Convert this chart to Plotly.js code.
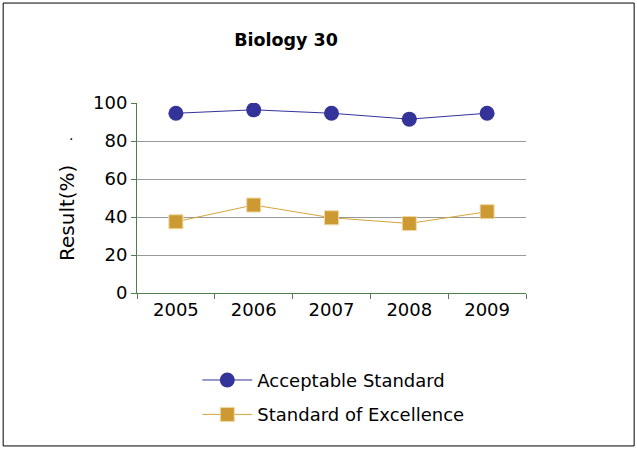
<!DOCTYPE html>
<html><head><meta charset="utf-8">
<script src="https://cdn.plot.ly/plotly-3.0.1.min.js"></script>
<style>html,body{margin:0;padding:0;background:#fff}#chart{width:637px;height:450px}</style>
</head><body><div id="chart"></div>
<script>
const years = ['2005','2006','2007','2008','2009'];
const acceptable = [94.6, 96.4, 94.6, 91.5, 94.6];
const excellence = [37.5, 46.3, 39.6, 36.6, 42.8];
const yTicks = [0, 20, 40, 60, 80, 100];

const traces = [
  {x: years, y: acceptable, name: 'Acceptable Standard', type: 'scatter', mode: 'lines+markers', legendgroup: 'a',
   line: {color: '#333399', width: 1}, marker: {symbol: 'circle', size: 15, color: '#333399'}},
  {x: years, y: excellence, name: 'Standard of Excellence', type: 'scatter', mode: 'lines+markers', legendgroup: 'b',
   line: {color: '#D4A53A', width: 1}, marker: {symbol: 'square', size: 14, color: '#CC9933', line: {color: '#F0D9A0', width: 1}}}
];

const F = 'DejaVu Sans, Arial, sans-serif';
const layout = {
  width: 637, height: 450,
  margin: {l: 137, r: 111, t: 103, b: 157},
  paper_bgcolor: '#fff', plot_bgcolor: '#fff',
  font: {family: F, color: '#000', size: 18},
  title: {text: '<b>Biology 30</b>', font: {size: 17.5, family: F}, x: 0.449, xanchor: 'center', y: 0.912, yanchor: 'middle'},
  xaxis: {type: 'category', range: [-0.5, 4.5], showgrid: false, showline: true, linecolor: '#4F7F4F', linewidth: 1,
          ticks: 'outside', tickson: 'boundaries', ticklen: 5, tickcolor: '#4F7F4F', tickfont: {size: 18}, zeroline: false},
  yaxis: {range: [0, 100], tickvals: yTicks, showgrid: true, gridcolor: '#999999', gridwidth: 1,
          showline: true, linecolor: '#4F7F4F', ticks: 'outside', ticklen: 5, tickcolor: '#4F7F4F',
          tickfont: {size: 18}, zeroline: false},
  legend: {orientation: 'v', x: 0.155, xanchor: 'left', y: -0.362, yanchor: 'top', font: {size: 18}, tracegroupgap: 8,
           itemwidth: 50, bgcolor: 'rgba(0,0,0,0)'},
  showlegend: true,
  annotations: [
    {text: 'Result(%)', textangle: -90, xref: 'paper', yref: 'paper', x: -0.18, y: 0.421, xanchor: 'center', yanchor: 'middle',
     showarrow: false, font: {size: 20}},
    {text: '.', xref: 'paper', yref: 'paper', x: -0.181, y: 0.882, showarrow: false, font: {size: 14}}
  ],
  shapes: [{type: 'rect', xref: 'paper', yref: 'paper', x0: -0.344, x1: 1.278, y0: -0.805, y1: 1.526,
            line: {color: '#000', width: 1}, layer: 'below'}]
};
Plotly.newPlot('chart', traces, layout, {displayModeBar: false, staticPlot: true});
</script></body></html>
